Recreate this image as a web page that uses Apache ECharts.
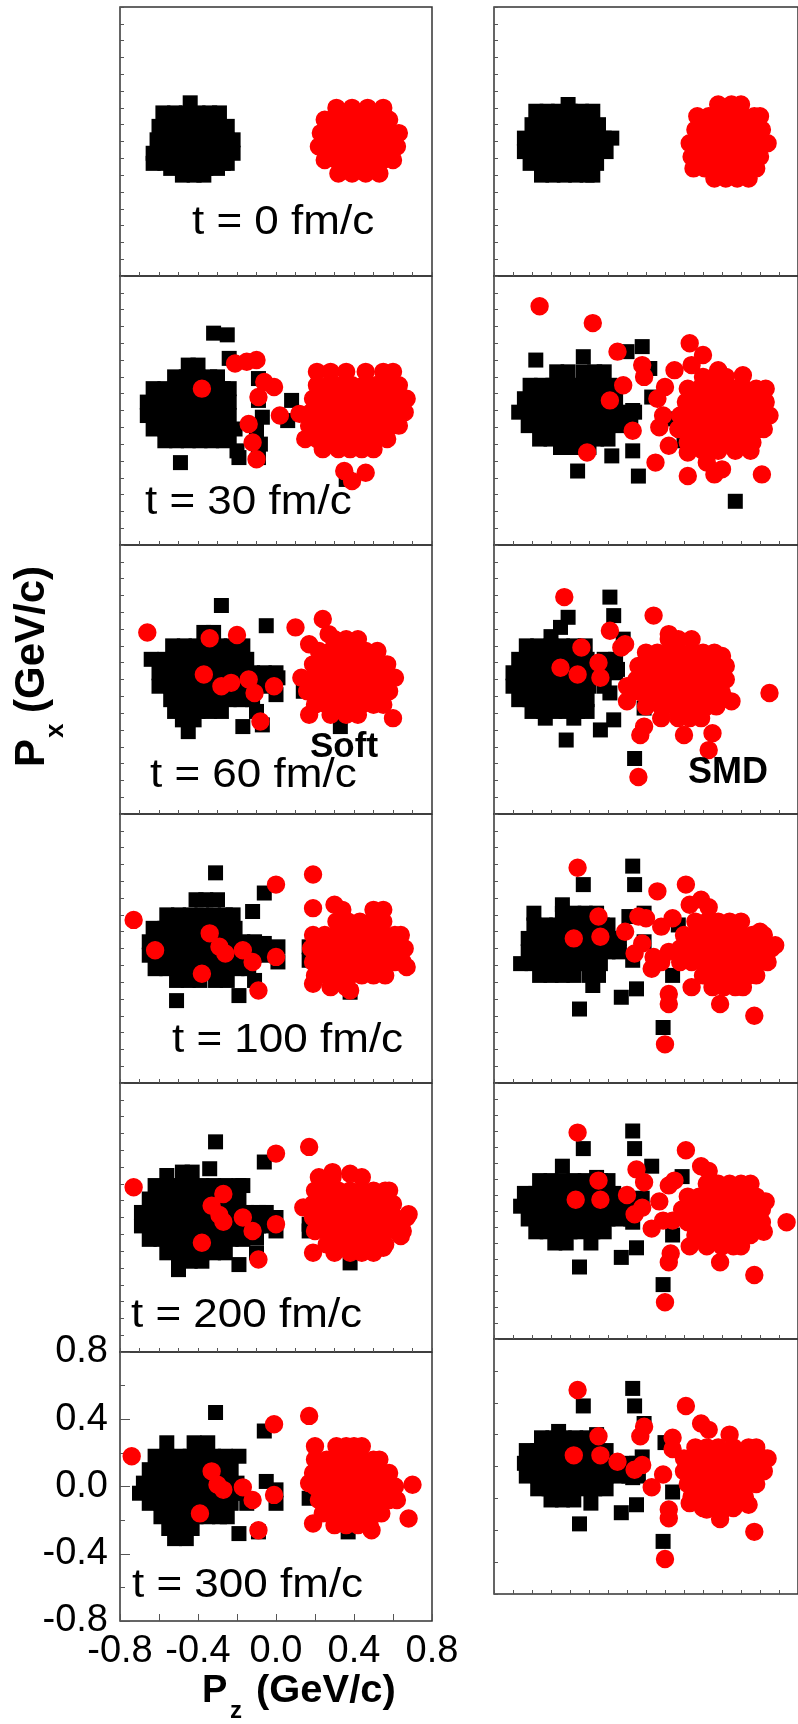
<!DOCTYPE html>
<html>
<head>
<meta charset="utf-8">
<script src="https://cdn.jsdelivr.net/npm/echarts@6/dist/echarts.min.js"></script>
<style>
  html, body { margin: 0; padding: 0; background: #fff; }
  #chart { width: 798px; height: 1724px; }
</style>
</head>
<body>
<div id="chart"></div>
<script>
// Momentum-space snapshots (Px vs Pz, GeV/c) of the two colliding nuclei.
// Each row: [Px, Pz, Pz, ...]  -> one point per listed Pz at that Px.
// Black squares: projectile-side nucleons, red circles: target-side nucleons.

const timeLabels = ['t = 0 fm/c', 't = 30 fm/c', 't = 60 fm/c', 't = 100 fm/c', 't = 200 fm/c', 't = 300 fm/c'];
const tickValues = [-0.8, -0.4, 0.0, 0.4, 0.8];

// ---- Soft EOS ----
const soft0Black = [
  [0.23, -0.44],
  [0.17, -0.58, -0.52, -0.46, -0.40, -0.34, -0.29],
  [0.09, -0.60, -0.54, -0.48, -0.42, -0.36, -0.30, -0.25],
  [0.01, -0.61, -0.55, -0.49, -0.43, -0.37, -0.31, -0.25, -0.22],
  [-0.07, -0.63, -0.57, -0.51, -0.45, -0.39, -0.33, -0.27, -0.22],
  [-0.13, -0.63, -0.57, -0.51, -0.45, -0.39, -0.33, -0.27, -0.25],
  [-0.16, -0.54, -0.48, -0.42, -0.36, -0.30],
  [-0.20, -0.48, -0.42, -0.37]
];
const soft0Red = [
  [0.20, 0.31, 0.39, 0.47, 0.55],
  [0.13, 0.25, 0.31, 0.37, 0.43, 0.49, 0.55, 0.58],
  [0.05, 0.23, 0.29, 0.35, 0.41, 0.47, 0.53, 0.59, 0.63],
  [-0.03, 0.22, 0.28, 0.34, 0.40, 0.46, 0.52, 0.58, 0.62],
  [-0.11, 0.25, 0.31, 0.37, 0.43, 0.49, 0.55, 0.60],
  [-0.19, 0.32, 0.39, 0.46, 0.53]
];
const soft30Black = [
  [0.46, -0.32], [0.45, -0.25], [0.31, -0.24],
  [0.27, -0.45, -0.40],
  [0.20, -0.52, -0.46, -0.40, -0.34, -0.30],
  [0.19, -0.09],
  [0.13, -0.63, -0.57, -0.51, -0.45, -0.39, -0.33, -0.27, -0.24],
  [0.06, -0.09, 0.08],
  [0.05, -0.66, -0.60, -0.54, -0.48, -0.42, -0.36, -0.30, -0.24],
  [-0.03, -0.66, -0.60, -0.54, -0.48, -0.42, -0.36, -0.30, -0.24],
  [-0.04, -0.07], [-0.06, 0.06],
  [-0.11, -0.63, -0.57, -0.51, -0.45, -0.39, -0.33, -0.27, -0.21],
  [-0.12, -0.10],
  [-0.17, -0.24],
  [-0.18, -0.57, -0.51, -0.45, -0.39, -0.33, -0.27],
  [-0.20, -0.08],
  [-0.24, -0.20],
  [-0.28, -0.19, -0.09],
  [-0.31, -0.49],
  [-0.41, 0.36]
];
const soft30Red = [
  [0.30, -0.10], [0.29, -0.15], [0.28, -0.21],
  [0.23, 0.21, 0.28, 0.36, 0.46, 0.55, 0.60],
  [0.17, -0.06],
  [0.15, 0.21, 0.27, 0.33, 0.39, 0.45, 0.51, 0.57, 0.63],
  [0.14, -0.01], [0.13, -0.38], [0.08, -0.09],
  [0.07, 0.19, 0.25, 0.31, 0.37, 0.43, 0.49, 0.55, 0.61, 0.67],
  [-0.01, 0.18, 0.24, 0.30, 0.36, 0.42, 0.48, 0.54, 0.60, 0.66],
  [-0.02, 0.12], [-0.03, 0.02], [-0.08, -0.14],
  [-0.09, 0.17, 0.23, 0.29, 0.35, 0.41, 0.47, 0.53, 0.59, 0.63],
  [-0.17, 0.15, 0.21, 0.27, 0.33, 0.39, 0.45, 0.51, 0.57],
  [-0.19, -0.12],
  [-0.23, 0.24, 0.32, 0.38, 0.44, 0.50],
  [-0.29, -0.10],
  [-0.36, 0.35], [-0.37, 0.46], [-0.42, 0.39]
];
const soft60Black = [
  [0.44, -0.28], [0.32, -0.05],
  [0.28, -0.37, -0.32],
  [0.20, -0.53, -0.47, -0.41, -0.35, -0.29, -0.23, -0.17],
  [0.12, -0.64, -0.57, -0.51, -0.45, -0.39, -0.33, -0.27, -0.21, -0.15],
  [0.04, -0.60, -0.54, -0.48, -0.42, -0.36, -0.30, -0.24, -0.18, -0.12, -0.06, 0.00],
  [0.01, 0.01],
  [-0.04, -0.60, -0.54, -0.48, -0.42, -0.36, -0.30, -0.24, -0.18, -0.12, -0.06],
  [-0.07, 0.14], [-0.09, 0.00],
  [-0.12, -0.54, -0.48, -0.42, -0.36, -0.30, -0.24, -0.18, -0.12],
  [-0.19, -0.52, -0.46, -0.40, -0.34, -0.28, -0.10],
  [-0.24, -0.48, -0.42],
  [-0.27, -0.07],
  [-0.28, -0.17, 0.33],
  [-0.31, -0.45]
];
const soft60Red = [
  [0.36, 0.24], [0.31, 0.10], [0.28, -0.66], [0.27, 0.27], [0.265, -0.20], [0.245, -0.34],
  [0.24, 0.30, 0.36, 0.42],
  [0.21, 0.17],
  [0.17, 0.22, 0.28, 0.34, 0.40, 0.46, 0.52],
  [0.09, 0.19, 0.25, 0.31, 0.37, 0.43, 0.49, 0.55, 0.57],
  [0.03, -0.37],
  [0.01, 0.13, 0.19, 0.25, 0.31, 0.37, 0.43, 0.49, 0.55, 0.61],
  [0.00, -0.14], [-0.02, -0.23], [-0.04, -0.28, -0.01],
  [-0.07, 0.16, 0.22, 0.28, 0.34, 0.40, 0.46, 0.52, 0.58],
  [-0.08, -0.11],
  [-0.15, 0.20, 0.26, 0.32, 0.38, 0.44, 0.50, 0.55],
  [-0.21, 0.17, 0.28, 0.36, 0.42],
  [-0.23, 0.60], [-0.25, -0.08]
];
const soft100Black = [
  [0.45, -0.31], [0.33, -0.06],
  [0.29, -0.41, -0.36, -0.30],
  [0.22, -0.12],
  [0.20, -0.56, -0.50, -0.44, -0.38, -0.32, -0.26, -0.22],
  [0.12, -0.63, -0.57, -0.51, -0.45, -0.39, -0.33, -0.27, -0.21],
  [0.04, -0.65, -0.59, -0.53, -0.47, -0.41, -0.35, -0.29, -0.23, -0.17, -0.11],
  [0.03, -0.06], [0.01, 0.01, 0.17],
  [-0.04, -0.65, -0.59, -0.53, -0.47, -0.41, -0.35, -0.29, -0.23, -0.17, -0.11, -0.06],
  [-0.07, 0.17], [-0.08, 0.01],
  [-0.12, -0.62, -0.56, -0.50, -0.44, -0.38, -0.32, -0.26, -0.20, -0.14],
  [-0.19, -0.51, -0.45, -0.39, -0.31, -0.25, -0.11],
  [-0.26, 0.38], [-0.28, -0.19], [-0.31, -0.51]
];
const soft100Red = [
  [0.44, 0.19], [0.38, 0.00], [0.26, 0.30], [0.24, 0.19],
  [0.23, 0.34, 0.50, 0.55],
  [0.17, -0.73],
  [0.16, 0.31, 0.37, 0.43, 0.49, 0.55],
  [0.09, -0.34],
  [0.08, 0.19, 0.25, 0.31, 0.37, 0.43, 0.49, 0.55, 0.61, 0.64],
  [0.01, -0.29],
  [0.00, 0.18, 0.24, 0.30, 0.36, 0.42, 0.48, 0.54, 0.60, 0.66],
  [-0.01, -0.62, -0.17], [-0.03, -0.26], [-0.05, 0.00],
  [-0.08, -0.12, 0.19, 0.25, 0.31, 0.37, 0.43, 0.49, 0.55, 0.61, 0.65],
  [-0.11, 0.67], [-0.15, -0.38],
  [-0.16, 0.20, 0.26, 0.32, 0.38, 0.44, 0.50, 0.56],
  [-0.21, 0.19],
  [-0.23, 0.28, 0.36],
  [-0.25, -0.09, 0.38]
];
const soft200Black = [
  [0.45, -0.31], [0.33, -0.06], [0.29, -0.34],
  [0.27, -0.48, -0.43], [0.25, -0.56],
  [0.19, -0.62, -0.56, -0.50, -0.44, -0.38, -0.32, -0.26, -0.19, -0.17],
  [0.11, -0.65, -0.59, -0.53, -0.47, -0.41, -0.35, -0.29, -0.23, -0.19],
  [0.03, -0.69, -0.63, -0.57, -0.51, -0.45, -0.39, -0.33, -0.27, -0.21, -0.15, -0.09, -0.05],
  [0.00, 0.00], [-0.04, 0.17],
  [-0.05, -0.69, -0.63, -0.57, -0.51, -0.45, -0.39, -0.33, -0.27, -0.21, -0.15, -0.09, -0.03],
  [-0.08, 0.00, 0.17], [-0.12, -0.10],
  [-0.13, -0.65, -0.59, -0.53, -0.47, -0.41, -0.35, -0.29, -0.23, -0.17],
  [-0.21, -0.56, -0.50, -0.44, -0.38, -0.32, -0.26, -0.10],
  [-0.26, -0.50, -0.44, -0.38],
  [-0.27, 0.38], [-0.28, -0.19], [-0.31, -0.50]
];
const soft200Red = [
  [0.42, 0.17], [0.38, 0.00], [0.27, 0.29], [0.26, 0.38],
  [0.24, 0.22, 0.29, 0.44],
  [0.18, -0.73],
  [0.16, 0.20, 0.26, 0.32, 0.38, 0.44, 0.50, 0.56, 0.58],
  [0.14, -0.27],
  [0.08, 0.19, 0.25, 0.31, 0.37, 0.43, 0.49, 0.55, 0.60],
  [0.07, -0.33], [0.06, 0.14], [0.02, 0.68], [0.015, -0.29],
  [0.00, -0.17, 0.19, 0.25, 0.31, 0.37, 0.43, 0.49, 0.55, 0.61, 0.67],
  [-0.025, -0.27], [-0.04, 0.00],
  [-0.08, -0.12, 0.20, 0.26, 0.32, 0.38, 0.44, 0.50, 0.56, 0.62, 0.65],
  [-0.11, 0.64], [-0.15, -0.38],
  [-0.16, 0.26, 0.32, 0.38, 0.44, 0.50, 0.56],
  [-0.18, 0.55],
  [-0.21, 0.19, 0.30, 0.38, 0.44, 0.50],
  [-0.25, -0.09]
];
const soft300Black = [
  [0.44, -0.31], [0.33, -0.06],
  [0.26, -0.56, -0.42, -0.35],
  [0.18, -0.62, -0.56, -0.50, -0.44, -0.38, -0.32, -0.26, -0.19],
  [0.10, -0.65, -0.59, -0.53, -0.47, -0.41, -0.35, -0.29, -0.23],
  [0.03, -0.05],
  [0.02, -0.68, -0.62, -0.56, -0.50, -0.44, -0.38, -0.32, -0.26, -0.20],
  [-0.02, 0.00],
  [-0.04, -0.70, -0.64, -0.58, -0.52, -0.46, -0.40, -0.34, -0.28, -0.22, -0.17],
  [-0.07, 0.17],
  [-0.10, -0.65, -0.59, -0.53, -0.47, -0.41, -0.35, -0.29, -0.23, -0.15, 0.00],
  [-0.18, -0.59, -0.53, -0.47, -0.41, -0.35, -0.29, -0.25],
  [-0.25, -0.55, -0.49, -0.43],
  [-0.27, -0.09, 0.37], [-0.28, -0.19],
  [-0.31, -0.52, -0.46]
];
const soft300Red = [
  [0.42, 0.17], [0.37, -0.01],
  [0.24, 0.20, 0.31, 0.36, 0.40, 0.44],
  [0.18, -0.74],
  [0.16, 0.20, 0.26, 0.32, 0.38, 0.44, 0.50, 0.53],
  [0.09, -0.33],
  [0.08, 0.19, 0.25, 0.31, 0.37, 0.43, 0.49, 0.55, 0.58],
  [0.02, 0.17], [0.01, -0.30, 0.70],
  [0.00, 0.20, 0.26, 0.32, 0.38, 0.44, 0.50, 0.56, 0.61],
  [-0.005, -0.17], [-0.02, -0.27], [-0.05, -0.01],
  [-0.08, -0.12, 0.22, 0.28, 0.34, 0.40, 0.46, 0.52, 0.58, 0.62],
  [-0.16, -0.39, 0.24, 0.30, 0.36, 0.42, 0.48, 0.54],
  [-0.19, 0.68], [-0.22, 0.19],
  [-0.23, 0.30, 0.36, 0.42, 0.48],
  [-0.26, -0.09, 0.49]
];

// ---- SMD EOS ----
const smd0Black = [
  [0.22, -0.41],
  [0.18, -0.58, -0.52, -0.46, -0.40, -0.34, -0.28],
  [0.10, -0.60, -0.54, -0.48, -0.42, -0.36, -0.30, -0.25],
  [0.02, -0.64, -0.58, -0.52, -0.46, -0.40, -0.34, -0.28, -0.22, -0.18],
  [-0.06, -0.64, -0.58, -0.52, -0.46, -0.40, -0.34, -0.28, -0.21],
  [-0.13, -0.61, -0.55, -0.49, -0.43, -0.37, -0.31, -0.26],
  [-0.20, -0.55, -0.49, -0.43, -0.37, -0.31, -0.28]
];
const smd0Red = [
  [0.22, 0.38, 0.45, 0.50],
  [0.15, 0.27, 0.33, 0.39, 0.45, 0.51, 0.57, 0.60],
  [0.07, 0.26, 0.32, 0.38, 0.44, 0.50, 0.56, 0.61],
  [-0.01, 0.23, 0.29, 0.35, 0.41, 0.47, 0.53, 0.59, 0.64],
  [-0.09, 0.24, 0.30, 0.36, 0.42, 0.48, 0.54, 0.60],
  [-0.16, 0.25, 0.31, 0.37, 0.43, 0.49, 0.55, 0.58],
  [-0.22, 0.36, 0.42, 0.48, 0.54]
];
const smd30Black = [
  [0.38, -0.02], [0.35, -0.10], [0.32, -0.33], [0.30, -0.58], [0.25, 0.02],
  [0.23, -0.47, -0.41, -0.33, -0.27, -0.22],
  [0.15, -0.61, -0.55, -0.49, -0.43, -0.37, -0.31, -0.25, -0.19],
  [0.08, 0.03],
  [0.07, -0.64, -0.58, -0.52, -0.46, -0.40, -0.34, -0.28, -0.22, -0.16],
  [0.00, -0.07],
  [-0.01, -0.67, -0.61, -0.55, -0.49, -0.43, -0.37, -0.31, -0.25, -0.19, -0.13, -0.06],
  [-0.05, 0.12],
  [-0.09, -0.62, -0.56, -0.50, -0.44, -0.38, -0.32, -0.26, -0.20, -0.14, -0.08],
  [-0.17, -0.56, -0.50, -0.44, -0.38, -0.32, -0.26, -0.20],
  [-0.18, 0.20],
  [-0.22, -0.45, -0.38, -0.30],
  [-0.24, -0.07], [-0.27, -0.18], [-0.36, -0.36], [-0.39, -0.04], [-0.54, 0.47]
];
const smd30Red = [
  [0.62, -0.56], [0.52, -0.28], [0.40, 0.23], [0.35, -0.15], [0.33, 0.30],
  [0.27, -0.02, 0.24], [0.24, 0.15, 0.38], [0.21, 0.51],
  [0.20, -0.01, 0.30, 0.36, 0.42],
  [0.15, -0.12], [0.14, 0.10],
  [0.13, 0.22, 0.28, 0.34, 0.40, 0.46, 0.52, 0.58, 0.63],
  [0.07, 0.06], [0.06, -0.19],
  [0.05, 0.21, 0.27, 0.33, 0.39, 0.45, 0.51, 0.57, 0.63],
  [-0.03, 0.09, 0.18, 0.24, 0.30, 0.36, 0.42, 0.48, 0.54, 0.60, 0.65],
  [-0.10, 0.07],
  [-0.11, 0.17, 0.23, 0.29, 0.35, 0.41, 0.47, 0.53, 0.59, 0.62],
  [-0.12, -0.07],
  [-0.19, 0.22, 0.28, 0.34, 0.40, 0.46, 0.52, 0.56],
  [-0.21, 0.12],
  [-0.24, 0.30, 0.38, 0.47, 0.55],
  [-0.25, -0.31, 0.22],
  [-0.31, 0.05, 0.32], [-0.35, 0.40], [-0.38, 0.36, 0.61], [-0.39, 0.22]
];
const smd60Black = [
  [0.49, -0.19], [0.38, -0.17], [0.37, -0.41], [0.31, -0.45], [0.255, -0.50], [0.24, -0.12],
  [0.20, -0.63, -0.57, -0.50, -0.44, -0.38, -0.32],
  [0.12, -0.67, -0.61, -0.55, -0.49, -0.43, -0.37, -0.31, -0.22, -0.16],
  [0.06, -0.15],
  [0.04, -0.70, -0.64, -0.58, -0.52, -0.46, -0.40, -0.34, -0.28, -0.22, -0.16],
  [-0.04, -0.70, -0.64, -0.58, -0.52, -0.46, -0.40, -0.34, -0.30, -0.22],
  [-0.08, -0.19],
  [-0.12, -0.67, -0.61, -0.55, -0.49, -0.43, -0.37, -0.31],
  [-0.17, -0.01],
  [-0.19, -0.60, -0.54, -0.48, -0.42, -0.36, -0.31],
  [-0.23, -0.53, -0.38],
  [-0.24, -0.17], [-0.30, -0.24], [-0.36, -0.42], [-0.47, -0.06]
];
const smd60Red = [
  [0.49, -0.43], [0.38, 0.04], [0.29, -0.19], [0.27, 0.12],
  [0.24, 0.12, 0.17, 0.24],
  [0.21, -0.11], [0.19, -0.34, -0.13],
  [0.16, 0.00, 0.06, 0.12, 0.18, 0.24, 0.30, 0.36],
  [0.14, 0.40], [0.10, -0.25],
  [0.08, -0.04, 0.02, 0.08, 0.14, 0.20, 0.26, 0.32, 0.38, 0.42],
  [0.07, -0.45], [0.03, -0.36], [0.01, -0.24],
  [0.00, -0.05, 0.01, 0.07, 0.13, 0.19, 0.25, 0.31, 0.37, 0.42],
  [-0.04, -0.10],
  [-0.08, -0.08, -0.02, 0.04, 0.10, 0.16, 0.22, 0.28, 0.34, 0.40, 0.65],
  [-0.13, -0.10, 0.45],
  [-0.16, 0.00, 0.08, 0.14, 0.20, 0.26, 0.32, 0.37],
  [-0.23, 0.08, 0.17, 0.23, 0.29],
  [-0.28, -0.01], [-0.32, 0.35], [-0.33, -0.03, 0.20], [-0.42, 0.33], [-0.58, -0.04]
];
const smd100Black = [
  [0.49, -0.07], [0.38, -0.33, -0.06], [0.26, -0.44],
  [0.21, -0.59, -0.44, -0.38, -0.32, -0.26, -0.01],
  [0.19, -0.09],
  [0.14, -0.59, -0.53, -0.47, -0.41, -0.35, -0.29, -0.23, -0.20, 0.17],
  [0.06, -0.62, -0.56, -0.50, -0.44, -0.38, -0.32, -0.26, -0.20, -0.14],
  [0.04, -0.01],
  [-0.02, -0.62, -0.56, -0.50, -0.44, -0.38, -0.32, -0.26, -0.20, -0.14],
  [-0.07, -0.07],
  [-0.09, -0.66, -0.60, -0.54, -0.48, -0.42, -0.36, -0.30, -0.24],
  [-0.16, -0.56, -0.50, -0.44, -0.38, -0.30, -0.25, 0.14],
  [-0.22, -0.28], [-0.24, -0.05], [-0.29, -0.13], [-0.36, -0.35], [-0.47, 0.09]
];
const smd100Red = [
  [0.48, -0.36], [0.38, 0.21], [0.34, 0.06], [0.29, 0.29], [0.26, 0.23], [0.245, 0.33],
  [0.19, -0.25, -0.04], [0.18, 0.00, 0.14],
  [0.16, 0.26, 0.32, 0.38, 0.44, 0.50],
  [0.13, 0.08], [0.10, -0.11, 0.60],
  [0.08, 0.20, 0.26, 0.32, 0.38, 0.44, 0.50, 0.56, 0.62],
  [0.07, -0.24], [0.06, -0.38], [0.03, -0.02], [0.02, 0.68],
  [0.00, 0.18, 0.24, 0.30, 0.36, 0.42, 0.48, 0.54, 0.60, 0.66],
  [-0.02, 0.12], [-0.03, -0.06], [-0.05, 0.04],
  [-0.08, 0.08, 0.18, 0.24, 0.30, 0.36, 0.42, 0.48, 0.54, 0.60, 0.64],
  [-0.12, 0.03],
  [-0.16, 0.30, 0.36, 0.42, 0.48, 0.54, 0.58],
  [-0.23, 0.24, 0.35, 0.41, 0.47, 0.51],
  [-0.27, 0.12], [-0.33, 0.12, 0.39], [-0.40, 0.57], [-0.57, 0.10]
];
const smd200Black = [
  [0.50, -0.07], [0.39, -0.33, -0.06], [0.28, -0.44, 0.03], [0.215, 0.19], [0.21, -0.26],
  [0.19, -0.56, -0.50, -0.44, -0.38, -0.32, -0.24, -0.20],
  [0.11, -0.64, -0.58, -0.52, -0.46, -0.40, -0.34, -0.28, -0.22, -0.17],
  [0.08, -0.02],
  [0.03, -0.66, -0.60, -0.54, -0.48, -0.42, -0.36, -0.30, -0.24, -0.18, -0.12, -0.08],
  [-0.05, -0.62, -0.56, -0.50, -0.44, -0.38, -0.32, -0.26, -0.20, -0.14, -0.08],
  [-0.07, -0.07],
  [-0.13, -0.58, -0.52, -0.46, -0.40, -0.34, -0.28, -0.22],
  [-0.15, 0.14],
  [-0.20, -0.48, -0.42, -0.29],
  [-0.23, -0.05], [-0.29, -0.13], [-0.35, -0.35], [-0.46, 0.09]
];
const smd200Red = [
  [0.49, -0.36], [0.38, 0.21], [0.28, 0.29], [0.26, -0.05], [0.25, 0.33],
  [0.19, -0.25, 0.15], [0.18, -0.01],
  [0.17, 0.32, 0.38, 0.44, 0.50, 0.55],
  [0.16, 0.12], [0.10, -0.10],
  [0.09, 0.22, 0.28, 0.34, 0.40, 0.46, 0.52, 0.58],
  [0.07, -0.37, -0.24], [0.06, 0.07, 0.63], [0.02, -0.02],
  [0.01, 0.19, 0.25, 0.31, 0.37, 0.43, 0.49, 0.55, 0.61],
  [-0.02, -0.06], [-0.06, 0.09, 0.14],
  [-0.07, 0.22, 0.28, 0.34, 0.40, 0.46, 0.52, 0.58, 0.61, 0.74],
  [-0.11, 0.03], [-0.13, 0.62],
  [-0.15, 0.26, 0.32, 0.38, 0.44, 0.50, 0.55],
  [-0.22, 0.23, 0.32, 0.40, 0.46, 0.50],
  [-0.265, 0.13], [-0.32, 0.12, 0.39], [-0.40, 0.57], [-0.57, 0.10]
];
const smd300Black = [
  [0.49, -0.07], [0.38, -0.33, -0.06], [0.27, -0.01], [0.22, -0.46], [0.20, -0.26],
  [0.18, -0.55, -0.49, -0.43, -0.37, -0.31],
  [0.15, 0.10],
  [0.10, -0.63, -0.57, -0.51, -0.45, -0.39, -0.33, -0.27, -0.21],
  [0.06, -0.02],
  [0.02, -0.64, -0.58, -0.52, -0.46, -0.40, -0.34, -0.28, -0.22, -0.16, -0.10, -0.05],
  [-0.06, -0.63, -0.57, -0.51, -0.45, -0.39, -0.33, -0.27, -0.21, -0.15, -0.09, -0.04],
  [-0.07, -0.07],
  [-0.14, -0.57, -0.51, -0.45, -0.39, -0.33, -0.27, -0.21],
  [-0.16, 0.14],
  [-0.21, -0.50, -0.44, -0.38],
  [-0.23, -0.29], [-0.24, -0.05], [-0.29, -0.13], [-0.36, -0.35], [-0.47, 0.09]
];
const smd300Red = [
  [0.48, -0.36], [0.38, 0.21], [0.27, 0.29], [0.25, -0.01], [0.23, 0.33], [0.20, 0.44],
  [0.19, -0.25, -0.03], [0.18, 0.14],
  [0.12, 0.26, 0.32, 0.38, 0.46, 0.54, 0.58],
  [0.11, 0.14], [0.07, -0.38, -0.24],
  [0.05, 0.20, 0.26, 0.32, 0.38, 0.44, 0.50, 0.56, 0.62, 0.64],
  [0.03, -0.15], [0.01, -0.02], [-0.02, -0.06],
  [-0.03, 0.20, 0.26, 0.32, 0.38, 0.44, 0.50, 0.56, 0.62],
  [-0.05, 0.09],
  [-0.11, 0.22, 0.28, 0.34, 0.40, 0.46, 0.52, 0.58],
  [-0.13, 0.03],
  [-0.19, 0.24, 0.30, 0.36, 0.42, 0.48, 0.52],
  [-0.23, 0.23], [-0.24, 0.54],
  [-0.26, 0.30, 0.36, 0.42, 0.46],
  [-0.27, 0.12, 0.32], [-0.325, 0.12], [-0.33, 0.39], [-0.41, 0.57], [-0.58, 0.10]
];

// ---- layout of the 6 x 2 panel stack (pixels) ----
const FONT = '"Liberation Sans", Arial, Helvetica, sans-serif';
const colLeft = [120, 494];
const panelWidth = 312;
const rowTops = [[7, 276, 545, 814, 1083, 1352], [7, 276, 545, 814, 1083, 1339]];
const rowHeights = [[269, 269, 269, 269, 269, 269], [269, 269, 269, 269, 256, 255]];

const panels = [
  { col: 0, row: 0, black: soft0Black, red: soft0Red },
  { col: 0, row: 1, black: soft30Black, red: soft30Red },
  { col: 0, row: 2, black: soft60Black, red: soft60Red },
  { col: 0, row: 3, black: soft100Black, red: soft100Red },
  { col: 0, row: 4, black: soft200Black, red: soft200Red },
  { col: 0, row: 5, black: soft300Black, red: soft300Red },
  { col: 1, row: 0, black: smd0Black, red: smd0Red },
  { col: 1, row: 1, black: smd30Black, red: smd30Red },
  { col: 1, row: 2, black: smd60Black, red: smd60Red },
  { col: 1, row: 3, black: smd100Black, red: smd100Red },
  { col: 1, row: 4, black: smd200Black, red: smd200Red },
  { col: 1, row: 5, black: smd300Black, red: smd300Red }
];

function toPoints(rows) {
  const pts = [];
  rows.forEach(function (r) {
    for (let i = 1; i < r.length; i++) pts.push([r[i], r[0]]);
  });
  return pts;
}

const grids = [], xAxes = [], yAxes = [], series = [];
const tickStyle = { color: '#555', width: 1 };

panels.forEach(function (p, i) {
  const labelled = p.col === 0 && p.row === 5;
  const bottomRight = p.col === 1 && p.row === 5;
  grids.push({
    left: colLeft[p.col], top: rowTops[p.col][p.row],
    width: panelWidth, height: rowHeights[p.col][p.row],
    show: true, borderColor: '#333', borderWidth: 1.5, containLabel: false
  });
  xAxes.push({
    gridIndex: i, type: 'value', min: -0.8, max: 0.8, position: 'bottom',
    interval: labelled ? 0.4 : 0.1,
    axisLine: { show: false, onZero: false }, splitLine: { show: false },
    axisTick: { show: true, inside: true, length: labelled ? 7 : 4, lineStyle: tickStyle },
    minorTick: { show: labelled, splitNumber: 2, length: 7, lineStyle: tickStyle },
    axisLabel: {
      show: labelled, margin: 12, color: '#000', fontSize: 38, fontFamily: FONT,
      formatter: function (v) { return v.toFixed(1); }
    }
  });
  yAxes.push({
    gridIndex: i, type: 'value', min: -0.8, max: 0.8, position: 'left',
    interval: labelled ? 0.4 : (bottomRight ? 0.2 : 0.1),
    axisLine: { show: false, onZero: false }, splitLine: { show: false },
    axisTick: { show: true, inside: true, length: labelled ? 10 : 4, lineStyle: tickStyle },
    minorTick: { show: labelled, splitNumber: 2, length: 5, lineStyle: tickStyle },
    axisLabel: {
      show: labelled, margin: 12, color: '#000', fontSize: 38, fontFamily: FONT,
      formatter: function (v) { return v.toFixed(1); }
    }
  });
  series.push({
    type: 'scatter', xAxisIndex: i, yAxisIndex: i, data: toPoints(p.black),
    symbol: 'rect', symbolSize: 15, itemStyle: { color: '#000', opacity: 1 },
    silent: true, z: 2
  });
  // a thin same-colour rim keeps the densely packed discs solid
  series.push({
    type: 'scatter', xAxisIndex: i, yAxisIndex: i, data: toPoints(p.red),
    symbol: 'circle', symbolSize: 16.8,
    itemStyle: { color: '#ff0000', opacity: 1, borderColor: '#ff0000', borderWidth: 1.6 },
    silent: true, z: 3
  });
});

// text placed by baseline: vertical middle sits ~0.35 em above the baseline
function label(text, x, baseline, size, bold, sx) {
  return {
    type: 'text', x: x, y: baseline - 0.35 * size, z: 100, scaleX: sx || 1,
    style: {
      text: text, fill: '#000', fontSize: size, fontWeight: bold ? 'bold' : 'normal',
      fontFamily: FONT, textAlign: 'left', textVerticalAlign: 'middle'
    }
  };
}

const timePos = [[192, 237], [145, 517], [150, 790], [172, 1055], [131, 1330], [132, 1600]];
const graphics = timeLabels.map(function (t, k) {
  return label(t, timePos[k][0], timePos[k][1], 40, false, 1.1);
});
graphics.push(label('Soft', 310, 760, 35, true));
graphics.push(label('SMD', 688, 786, 36, true));

// x-axis title: P_z (GeV/c)
graphics.push(label('P', 202, 1705, 38, true));
graphics.push(label('z', 230, 1720, 24, true));
graphics.push(label('(GeV/c)', 256, 1705, 38, true, 1.05));

// y-axis title: P_x (GeV/c), reading upward
graphics.push({
  type: 'group', x: 47, y: 767, rotation: Math.PI / 2, z: 100,
  children: [
    label('P', 0, 0, 42, true),
    label('x', 29, 18, 26, true),
    label('(GeV/c)', 54, 0, 42, true)
  ]
});

const chart = echarts.init(document.getElementById('chart'), null, { renderer: 'canvas' });
chart.setOption({
  animation: false,
  backgroundColor: '#ffffff',
  grid: grids,
  xAxis: xAxes,
  yAxis: yAxes,
  series: series,
  graphic: { elements: graphics }
});
</script>
</body>
</html>
